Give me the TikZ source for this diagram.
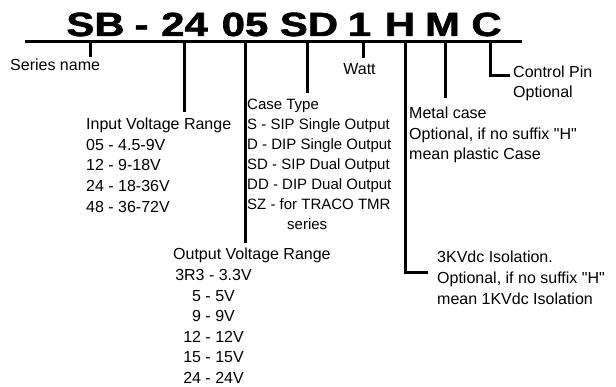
\documentclass[tikz,border=0pt]{standalone}
\usepackage{fontspec}
\setmainfont{Liberation Sans}[Ligatures=TeXOff]
\newfontface\ttlfont{Liberation Sans Bold}[FakeBold=1.5]
\begin{document}
\begin{tikzpicture}[x=1pt,y=-1pt,
  bar/.style={line width=3pt, line join=miter},
  lbl/.style={font=\fontsize{16}{20.5}\selectfont, inner sep=0pt, anchor=base west},
  lblc/.style={lbl, anchor=base},
  cse/.style={lbl, font=\fontsize{15}{20}\selectfont},
  ttl/.style={font=\fontsize{33.5}{36}\ttlfont, inner sep=0pt, anchor=base}]
\fill[white] (0,0) rectangle (616,387);
\useasboundingbox (0,0) rectangle (616,387);

% title
\node[ttl] (tSB) at (95.5,36) {\scalebox{1.25}[1]{SB}};
\node[ttl] (tDash) at (141.5,36) {\scalebox{1.25}[1]{-}};
\node[ttl] (t24) at (184.5,36) {\scalebox{1.25}[1]{24}};
\node[ttl] (t05) at (245,36) {\scalebox{1.25}[1]{05}};
\node[ttl] (tSD) at (309,36) {\scalebox{1.25}[1]{SD}};
\node[ttl] (t1) at (359.5,36) {\scalebox{1.25}[1]{1}};
\node[ttl] (tH) at (400,36) {\scalebox{1.25}[1]{H}};
\node[ttl] (tM) at (442.5,36) {\scalebox{1.25}[1]{M}};
\node[ttl] (tC) at (486.5,36) {\scalebox{1.25}[1]{C}};

% main line
\coordinate (mainL) at (25,42);
\coordinate (mainR) at (522,42);
\draw[bar] (mainL) -- (mainR);

% ticks
\coordinate (kS) at (90,42);   \coordinate (kSe) at (90,57);
\coordinate (kI) at (184,42);  \coordinate (kIe) at (184,112);
\coordinate (kO) at (245,42);  \coordinate (kOe) at (245,243);
\coordinate (kT) at (307,42);  \coordinate (kTe) at (307,93);
\coordinate (kW) at (363,42);  \coordinate (kWe) at (363,58);
\coordinate (kH) at (405,42);  \coordinate (kHc) at (405,273); \coordinate (kHe) at (428,273);
\coordinate (kM) at (445,42);  \coordinate (kMe) at (445,98);
\coordinate (kC) at (490,42);  \coordinate (kCc) at (490,76);  \coordinate (kCe) at (510,76);
\draw[bar] (kS) -- (kSe);
\draw[bar] (kI) -- (kIe);
\draw[bar] (kO) -- (kOe);
\draw[bar] (kT) -- (kTe);
\draw[bar] (kW) -- (kWe);
\draw[bar] (kH) -- (kHc) -- (kHe);
\draw[bar] (kM) -- (kMe);
\draw[bar] (kC) -- (kCc) -- (kCe);

% labels
\node[lbl] (series) at (10,71) {Series name};
\node[lblc] (watt) at (359.5,75) {Watt};

\foreach \t [count=\i from 0] in {Input Voltage Range, 05 - 4.5-9V, 12 - 9-18V, 24 - 18-36V, 48 - 36-72V}
  \node[lbl] (inp\i) at (86,{129.5+20.7*\i}) {\t};

\foreach \t [count=\i from 0] in {Case Type, S - SIP Single Output, D - DIP Single Output, SD - SIP Dual Output, DD - DIP Dual Output, SZ - for TRACO TMR}
  \node[cse] (case\i) at (247,{110+19.9*\i}) {\t};
\node[cse] (case6) at (287,229.5) {series};

\node[lbl] (out0) at (173,260) {Output Voltage Range};
\foreach \t [count=\i] in {3R3 - 3.3V, 5 - 5V, 9 - 9V, 12 - 12V, 15 - 15V, 24 - 24V}
  \node[lblc] (out\i) at (213.5,{259.9+20.6*\i}) {\t};

\foreach \t [count=\i from 0] in {Metal case, {Optional, if no suffix "H"}, mean plastic Case}
  \node[lbl] (met\i) at (409,{118.5+20.7*\i}) {\t};

\foreach \t [count=\i from 0] in {Control Pin, Optional}
  \node[lbl] (ctl\i) at (513,{77.5+20.3*\i}) {\t};

\foreach \t [count=\i from 0] in {3KVdc Isolation., {Optional, if no suffix "H"}, mean 1KVdc Isolation}
  \node[lbl] (iso\i) at (437,{263+21*\i}) {\t};
\end{tikzpicture}
\end{document}
